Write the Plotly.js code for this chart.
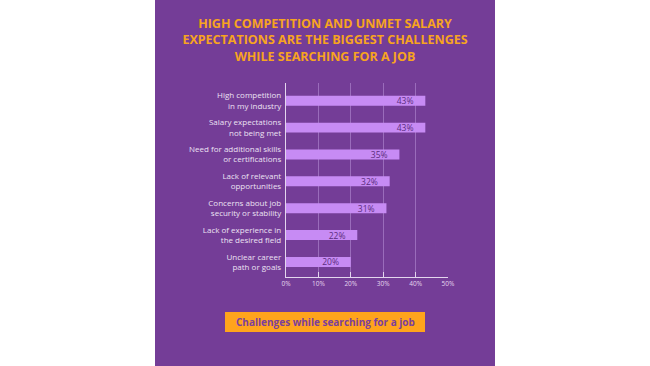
<!DOCTYPE html>
<html><head><meta charset="utf-8">
<script src="https://cdn.plot.ly/plotly-3.0.1.min.js"></script>
<style>html,body{margin:0;padding:0;background:#fff;}#chart{width:650px;height:366px;}</style>
</head><body><div id="chart"></div>
<script>
const categories = [
  "High competition<br>in my industry",
  "Salary expectations<br>not being met",
  "Need for additional skills<br>or certifications",
  "Lack of relevant<br>opportunities",
  "Concerns about job<br>security or stability",
  "Lack of experience in<br>the desired field",
  "Unclear career<br>path or goals"
];
const values = [43, 43, 35, 32, 31, 22, 20];
const tickValues = [0, 10, 20, 30, 40, 50];
const tickLabels = ["0%", "10%", "20%", "30%", "40%", "50%"];

const W = 650, H = 366;
const M = {l: 286, r: 202, t: 83, b: 89};
const pw = W - M.l - M.r, ph = H - M.t - M.b;
const px = x => (x - M.l) / pw;
const py = y => 1 - (y - M.t) / ph;

const purple = "#743d97";
const font = "Open Sans, sans-serif";

const trace = {
  type: "bar", orientation: "h",
  x: values, y: categories,
  marker: {color: "#c78bf4", line: {width: 0}},
  width: 0.37,
  text: values.map(v => v + "%\u00a0\u00a0\u00a0\u00a0"),
  textposition: "inside", insidetextanchor: "end",
  constraintext: "none",
  textfont: {color: "#5b2b7e", size: 8.5, family: font},
  hoverinfo: "none", cliponaxis: false
};

const layout = {
  width: W, height: H,
  margin: M,
  paper_bgcolor: "#ffffff", plot_bgcolor: purple,
  showlegend: false,
  font: {family: font},
  title: {
    text: "HIGH COMPETITION AND UNMET SALARY<br>EXPECTATIONS ARE THE BIGGEST CHALLENGES<br>WHILE SEARCHING FOR A JOB",
    font: {family: font, size: 12.5, color: "#f7a41f", weight: 700},
    x: 0.5, xanchor: "center", y: 1 - 28 / H, yanchor: "top", yref: "container"
  },
  xaxis: {
    range: [0, 50], tickvals: tickValues, ticktext: tickLabels,
    showgrid: true, gridcolor: "#9a6cbb", gridwidth: 1,
    zeroline: false, showline: true, linecolor: "#e4d6ee", linewidth: 1.2,
    ticks: "inside", ticklen: 5, tickcolor: "#e4d6ee",
    tickfont: {size: 6.5, color: "#e4d6ee", family: font},
    fixedrange: true
  },
  yaxis: {
    range: [6.56, -0.66], type: "category",
    showgrid: false, zeroline: false, showline: true, linecolor: "#e4d6ee", linewidth: 1.2,
    ticks: "", ticklabelstandoff: 2,
    tickfont: {size: 8, color: "#ece2f3", family: font},
    fixedrange: true
  },
  shapes: [
    {type: "rect", xref: "paper", yref: "paper", layer: "below",
     x0: px(155), x1: px(495), y0: py(0), y1: py(H),
     fillcolor: purple, line: {width: 0}},
    {type: "rect", xref: "paper", yref: "paper",
     x0: px(225), x1: px(425), y0: py(312), y1: py(332),
     fillcolor: "#ffa41c", line: {width: 0}}
  ],
  annotations: [
    {xref: "paper", yref: "paper", x: px(325), y: py(322), xanchor: "center", yanchor: "middle",
     text: "<b>Challenges while searching for a job</b>", showarrow: false,
     font: {family: font, size: 10, color: "#7b3f9c"}}
  ]
};

Plotly.newPlot("chart", [trace], layout, {displayModeBar: false, staticPlot: true});
</script>
</body></html>
